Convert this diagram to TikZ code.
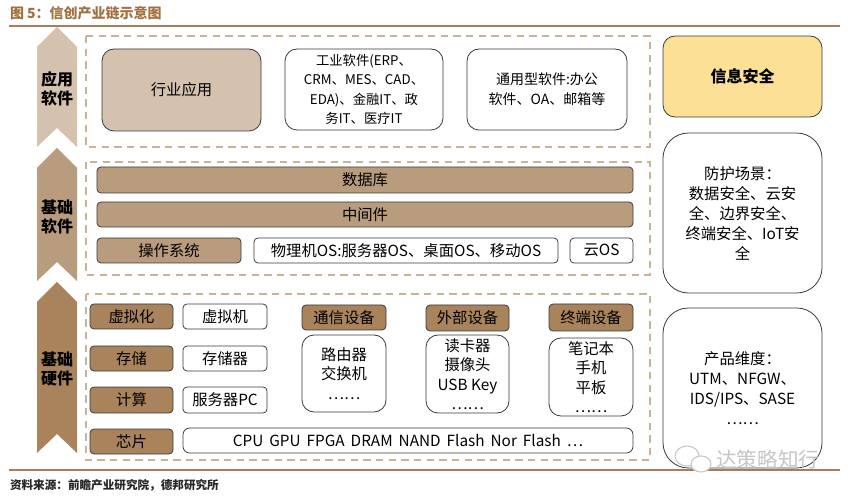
\documentclass[tikz,border=0pt]{standalone}
\usepackage{fontspec}
\setmainfont{Noto Sans CJK SC}
\definecolor{tanL}{HTML}{D5C2AE}
\definecolor{tanM}{HTML}{B99C7E}
\definecolor{tanD}{HTML}{A8835C}
\definecolor{dashc}{HTML}{C9B29A}
\definecolor{rulec}{HTML}{A67D5D}
\definecolor{titlec}{HTML}{A0703F}
\definecolor{yel}{HTML}{FCE096}
\definecolor{edgec}{HTML}{3A3A3A}
\newcommand\fs[2]{\fontsize{#1}{#2}\selectfont}
\newcommand\mkbox[7]{\node[#2,minimum width={(#5-#3)*0.75pt},minimum height={(#6-#4)*0.75pt}] (#1) at ({(#3+#5)/2},{(#4+#6)/2}) {#7};}
\begin{document}
\begin{tikzpicture}[x=0.75pt,y=-0.75pt,
  every node/.style={inner sep=0pt,outer sep=0pt},
  base/.style={draw=edgec,line width=0.6pt,align=center,font=\fs{11.5}{15}},
  appbox/.style={base,rounded corners=9pt,fill=white},
  secbox/.style={base,rounded corners=19pt,fill=white},
  bar/.style={base,rounded corners=3pt,fill=white},
  barM/.style={bar,fill=tanM},
  barD/.style={bar,fill=tanD},
  dashbox/.style={draw=dashc,line width=1.1pt,dash pattern=on 5.5pt off 4pt},
  rulel/.style={draw=rulec,line width=2pt},
  banner/.style={font=\bfseries\fs{12}{14.5},align=center}]
\useasboundingbox (0,0) rectangle (848,498);

% title and rules
\node[anchor=west,font=\bfseries\fs{10.5}{12},text=titlec] (title) at (10,13) {图 5：信创产业链示意图};
\coordinate (tl) at (9,26); \coordinate (tr) at (840,26);
\draw[rulel] (tl) -- (tr);
\coordinate (bl) at (9,470); \coordinate (br) at (840,470);
\draw[rulel] (bl) -- (br);
\node[anchor=west,font=\bfseries\fs{8.7}{10},text=black!85] (src) at (10,485) {资料来源：前瞻产业研究院，德邦研究所};

% banners
\fill[tanL] (37,47) -- (57,27) -- (77,47) -- (77,147) -- (57,128) -- (37,147) -- cycle;
\fill[tanM] (37,168) -- (57,148) -- (77,168) -- (77,281) -- (57,262) -- (37,281) -- cycle;
\fill[tanD] (37,302) -- (57,282) -- (77,302) -- (77,453) -- (57,434) -- (37,453) -- cycle;
\node[banner] (b1) at (57,89) {应用\\软件};
\node[banner] (b2) at (57,217) {基础\\软件};
\node[banner] (b3) at (57,369) {基础\\硬件};

% dashed frames
\draw[dashbox] (86,36) rectangle (650,147);
\draw[dashbox] (86,162) rectangle (650,275);
\draw[dashbox] (86,294) rectangle (650,460);

% application software
\mkbox{hyyy}{appbox,fill=tanL}{102}{49}{261}{131}{行业应用}
\mkbox{gyrj}{appbox,font=\fs{10}{14.5}}{285}{49}{443}{130}{工业软件(ERP、\\CRM、MES、CAD、\\EDA)、金融IT、政\\务IT、医疗IT}
\mkbox{tyrj}{appbox,font=\fs{10.5}{15}}{467}{49}{627}{130}{通用型软件:办公\\软件、OA、邮箱等}

% security column
\mkbox{xxaq}{appbox,fill=yel,font=\bfseries\fs{12}{15}}{663}{36}{822}{117}{信息安全}
\mkbox{fhcj}{secbox}{663}{133}{822}{293}{防护场景：\\数据安全、云安\\全、边界安全、\\终端安全、IoT安\\全}
\mkbox{cpwd}{secbox}{663}{308}{822}{468}{产品维度：\\UTM、NFGW、\\IDS/IPS、SASE\\……}

% basic software
\mkbox{sjk}{barM}{97}{167}{633}{193}{数据库}
\mkbox{zjj}{barM}{97}{202}{633}{227}{中间件}
\mkbox{czxt}{barM}{97}{238}{241}{263}{操作系统}
\mkbox{wljos}{bar}{254}{238}{558}{263}{物理机OS:服务器OS、桌面OS、移动OS}
\mkbox{yos}{bar}{570}{238}{633}{263}{云OS}

% hardware
\mkbox{xnh}{barD}{90}{304}{173}{329}{虚拟化}
\mkbox{xnj}{bar}{183}{304}{267}{329}{虚拟机}
\mkbox{cc}{barD}{90}{346}{173}{371}{存储}
\mkbox{ccq}{bar}{183}{346}{267}{371}{存储器}
\mkbox{js}{barD}{90}{387}{173}{413}{计算}
\mkbox{fwq}{bar}{183}{387}{267}{413}{服务器PC}
\mkbox{xp}{barD}{90}{429}{173}{454}{芯片}
\mkbox{chips}{bar,rounded corners=5pt}{183}{428}{633}{453}{CPU\ \,GPU\ \,FPGA\ \,DRAM\ \,NAND\ \,Flash\ \,Nor\ \,Flash\ \,…}

\mkbox{txsb}{barD}{302}{305}{386}{330}{通信设备}
\mkbox{txlist}{appbox,font=\fs{11.5}{14.6}}{302}{335}{386}{412}{路由器\\交换机\\……}
\mkbox{wbsb}{barD}{426}{305}{509}{331}{外部设备}
\mkbox{wblist}{appbox,font=\fs{11.5}{14.6}}{426}{335}{509}{413}{读卡器\\摄像头\\USB Key\\……}
\mkbox{zdsb}{barD}{549}{304}{633}{331}{终端设备}
\mkbox{zdlist}{appbox,font=\fs{11.5}{14.6}}{549}{338}{633}{416}{笔记本\\手机\\平板\\……}

% watermark
\draw[gray!45,line width=0.8pt] (687,456) ellipse [x radius=12, y radius=10];
\draw[gray!45,line width=0.8pt,fill=white] (701,464) ellipse [x radius=10, y radius=8];
\node[anchor=west,font=\fs{15.5}{17},text=gray!45] (wm) at (716,460) {达策略知行};
\end{tikzpicture}
\end{document}
